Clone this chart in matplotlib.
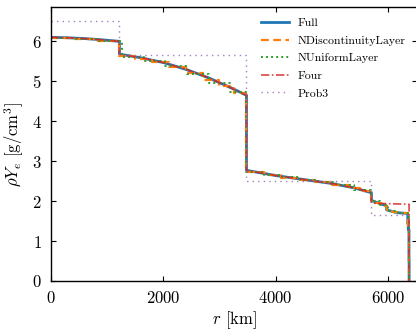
import matplotlib
matplotlib.use("Agg")
import matplotlib.pyplot as plt

plt.rcParams.update({
    "font.family": "serif",
    "font.serif": ["cmr10"],
    "mathtext.fontset": "cm",
    "axes.formatter.use_mathtext": True,
    "font.size": 12,
})

# Full radial profile of rho*Ye (km, g/cm^3), repeated radii mark discontinuities
full_r = [0, 300, 600, 900, 1221.5,
          1221.5, 1600, 2000, 2400, 2800, 3200, 3480,
          3480, 4000, 4500, 5000, 5400, 5701,
          5701, 5771, 5971, 5971, 6151, 6346.6,
          6346.6, 6356, 6356, 6368, 6368, 6371, 6371]
full_v = [6.10, 6.09, 6.07, 6.04, 6.00,
          5.68, 5.59, 5.47, 5.30, 5.09, 4.84, 4.65,
          2.77, 2.64, 2.54, 2.44, 2.33, 2.21,
          2.02, 1.98, 1.88, 1.78, 1.71, 1.69,
          1.44, 1.44, 1.29, 1.29, 0.51, 0.51, 0.0]

# Layers split at the discontinuities: edges and layer values
ndisc_edges = [0, 400, 800, 1221.5,
               1500, 1800, 2100, 2400, 2700, 3000, 3250, 3480,
               3800, 4100, 4400, 4700, 5000, 5300, 5500, 5701,
               5771, 5871, 5971, 6061, 6151, 6250, 6346.6, 6356, 6368, 6371]
ndisc_vals = [6.09, 6.06, 6.02,
              5.64, 5.56, 5.48, 5.36, 5.22, 5.04, 4.87, 4.70,
              2.73, 2.65, 2.59, 2.53, 2.47, 2.40, 2.33, 2.25,
              2.00, 1.95, 1.88, 1.77, 1.73, 1.70, 1.69, 1.44, 1.29, 0.51]

# Layers of equal thickness
nunif_edges = [0, 420, 840, 1260, 1650, 2040, 2430, 2820, 3180, 3480,
               3800, 4120, 4440, 4760, 5080, 5400, 5701,
               5850, 6000, 6180, 6371]
nunif_vals = [6.09, 6.06, 6.01, 5.62, 5.51, 5.38, 5.19, 4.95, 4.72,
              2.72, 2.66, 2.60, 2.54, 2.47, 2.40, 2.28,
              2.00, 1.90, 1.76, 1.69]

# Four-layer model
four_r = [0, 300, 600, 900, 1221.5,
          1221.5, 1600, 2000, 2400, 2800, 3200, 3480,
          3480, 4000, 4500, 5000, 5400, 5701,
          5701, 6371, 6371]
four_v = [6.10, 6.09, 6.07, 6.04, 6.00,
          5.68, 5.59, 5.47, 5.30, 5.09, 4.84, 4.65,
          2.77, 2.64, 2.54, 2.44, 2.33, 2.21,
          1.95, 1.92, 0.0]

# Prob3 constant-density shells
prob3_edges = [0, 1220, 3480, 5701, 6371]
prob3_vals = [6.5, 5.65, 2.5, 1.65]


def steps(edges, vals):
    xs, ys = [], []
    for i, v in enumerate(vals):
        xs += [edges[i], edges[i + 1]]
        ys += [v, v]
    xs.append(edges[-1])
    ys.append(0.0)
    return xs, ys


fig = plt.figure(figsize=(4.16, 3.29), dpi=100)
ax = fig.add_axes([0.1219, 0.1459, 0.8817, 0.8328])

ax.plot(full_r, full_v, color="#1f77b4", lw=2.0, ls="-", label="Full")
x, y = steps(ndisc_edges, ndisc_vals)
ax.plot(x, y, color="#ff7f0e", lw=1.6, ls=(0, (3.5, 2)), label="NDiscontinuityLayer")
x, y = steps(nunif_edges, nunif_vals)
ax.plot(x, y, color="#2ca02c", lw=1.4, ls=(0, (1, 1.6)), label="NUniformLayer")
ax.plot(four_r, four_v, color="#d62728", lw=1.2, ls=(0, (5, 1.5, 1, 1.5)), alpha=0.85, label="Four")
x, y = steps(prob3_edges, prob3_vals)
ax.plot(x, y, color="#9467bd", lw=1.0, ls=(0, (1, 3)), alpha=0.85, label="Prob3")

ax.set_xlim(0, 6520)
ax.set_ylim(0, 6.86)
ax.set_xticks([0, 2000, 4000, 6000])
ax.set_yticks([0, 1, 2, 3, 4, 5, 6])
ax.tick_params(direction="in", top=True, right=True, length=3.5, width=0.8, pad=6.5, labelsize=12)
for s in ax.spines.values():
    s.set_linewidth(1.0)

ax.set_xlabel(r"$r$ [km]", fontsize=12, labelpad=2)
ax.set_ylabel(r"$\rho Y_e$ [g/cm$^3$]", fontsize=12, labelpad=4)

ax.legend(loc="upper left", bbox_to_anchor=(261 / 416, 1 - 18 / 329),
          bbox_transform=fig.transFigure, frameon=False, fontsize=8.5,
          handlelength=2.35, handletextpad=0.76, labelspacing=0.62,
          borderpad=0, borderaxespad=0)

fig.savefig("out.png", dpi=100)
